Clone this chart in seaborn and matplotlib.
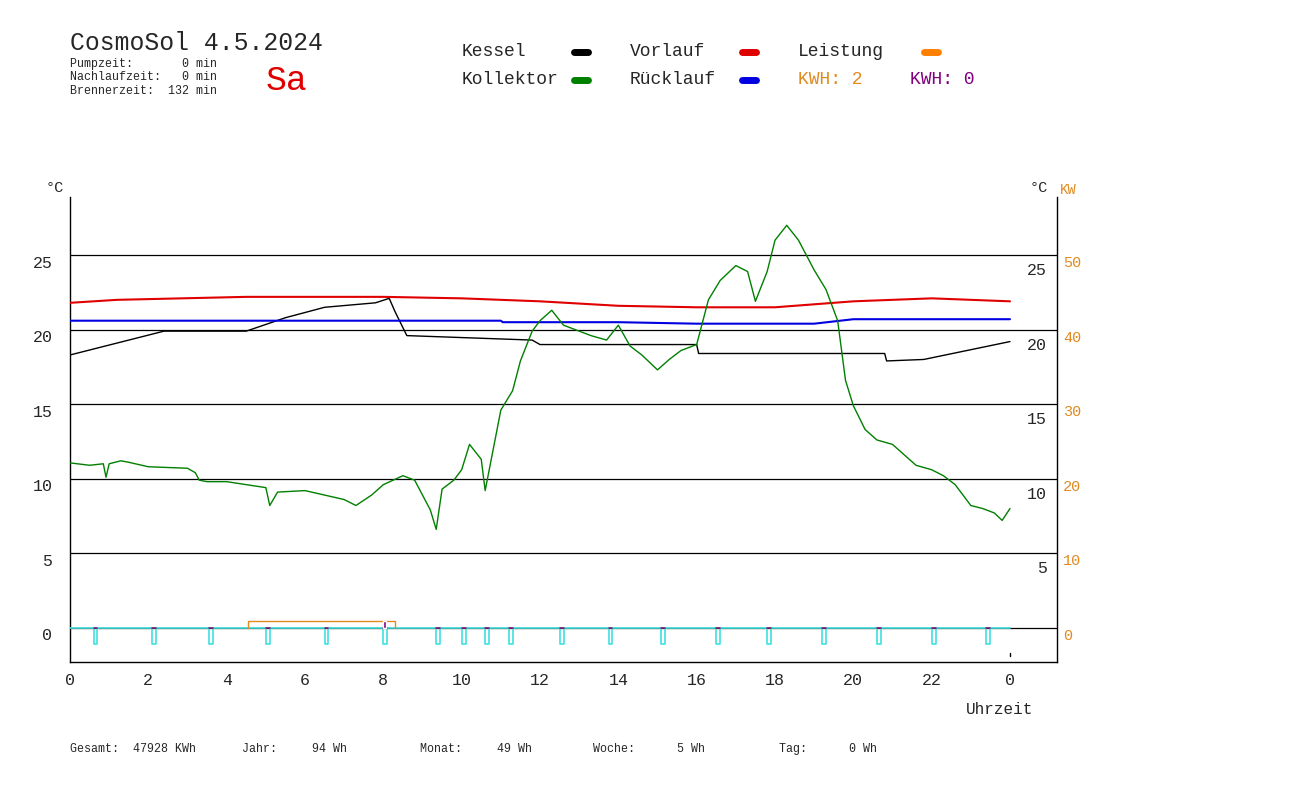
import matplotlib
matplotlib.use("Agg")
import matplotlib.pyplot as plt
import seaborn as sns
import pandas as pd
import numpy as np
from matplotlib.lines import Line2D

# ---------------- data ----------------
kessel_t = [0, 2.4, 4.5, 5.5, 6.5, 7.8, 8.15, 8.3, 8.6, 11.8, 12.0, 16.0, 16.05, 20.8, 20.85, 21.8, 24.0]
kessel_v = [18.3, 19.9, 19.9, 20.8, 21.5, 21.8, 22.1, 21.2, 19.6, 19.3, 19.0, 19.0, 18.4, 18.4, 17.9, 18.0, 19.2]

vorlauf_t = [0, 1.2, 4.5, 8.0, 10.0, 12.0, 14.0, 16.0, 18.0, 20.0, 22.0, 24.0]
vorlauf_v = [21.8, 22.0, 22.2, 22.2, 22.1, 21.9, 21.6, 21.5, 21.5, 21.9, 22.1, 21.9]

ruecklauf_t = [0, 11.0, 11.05, 14.0, 16.0, 19.0, 20.0, 24.0]
ruecklauf_v = [20.6, 20.6, 20.5, 20.5, 20.4, 20.4, 20.7, 20.7]

kollektor_t = [0, 0.5, 0.85, 0.92, 1.0, 1.3, 1.5, 2.0, 3.0, 3.2, 3.3, 3.5, 4.0, 4.5, 5.0, 5.1, 5.3, 6.0,
               6.5, 7.0, 7.3, 7.7, 8.0, 8.5, 8.8, 9.0, 9.2, 9.35, 9.5, 9.8, 10.0, 10.2, 10.5, 10.6,
               10.8, 11.0, 11.3, 11.5, 11.8, 12.0, 12.3, 12.6, 13.0, 13.3, 13.7, 14.0, 14.3, 14.6,
               15.0, 15.3, 15.6, 16.0, 16.3, 16.6, 17.0, 17.3, 17.5, 17.8, 18.0, 18.3, 18.6, 19.0,
               19.3, 19.6, 19.8, 20.0, 20.3, 20.6, 21.0, 21.3, 21.6, 22.0, 22.3, 22.6, 23.0, 23.3,
               23.6, 23.8, 24.0]
kollektor_v = [11.06, 10.9, 11.0, 10.1, 11.0, 11.2, 11.1, 10.8, 10.7, 10.4, 9.9, 9.8, 9.8, 9.6, 9.4, 8.2, 9.1, 9.2,
               8.9, 8.6, 8.2, 8.9, 9.6, 10.2, 9.9, 8.9, 7.9, 6.6, 9.3, 9.9, 10.6, 12.3, 11.3, 9.2,
               11.9, 14.6, 15.9, 17.9, 19.9, 20.6, 21.3, 20.3, 19.9, 19.6, 19.3, 20.3, 18.9, 18.3,
               17.3, 18.0, 18.6, 19.0, 22.0, 23.3, 24.3, 23.9, 21.9, 23.9, 26.0, 27.0, 26.0, 24.0,
               22.7, 20.6, 16.6, 14.9, 13.3, 12.6, 12.3, 11.6, 10.9, 10.6, 10.2, 9.6, 8.2, 8.0,
               7.7, 7.2, 8.0]

pump_dips = [0.6, 2.1, 3.55, 5.0, 6.5, 8.0, 9.35, 10.0, 10.6, 11.2, 12.5, 13.75, 15.1, 16.5, 17.8, 19.2, 20.6, 22.0, 23.4]
pump_low = -1.1
leistung_t = [4.55, 4.55, 8.3, 8.3]
leistung_v = [0.0, 0.45, 0.45, 0.0]

x_ticks = [0, 2, 4, 6, 8, 10, 12, 14, 16, 18, 20, 22, 24]
x_labels = ["0", "2", "4", "6", "8", "10", "12", "14", "16", "18", "20", "22", "0"]
c_ticks = [0, 5, 10, 15, 20, 25]
kw_labels = ["0", "10", "20", "30", "40", "50"]

# ---------------- plot ----------------
sns.set_style("white")
plt.rcParams['font.family'] = ['Liberation Mono', 'DejaVu Sans Mono']
fig = plt.figure(figsize=(13.14, 7.86), dpi=100)
ax = fig.add_axes([70/1314, 1-662/786, (1057-70)/1314, (662-197)/786])
ax.set_xlim(0, 25.2)
ax.set_ylim(-2.3, 28.9)

for c in c_ticks:
    ax.axhline(c, color="black", lw=0.9, zorder=1)

# pump signal
pt, pv = [0], [0]
w = 0.1
for d in pump_dips:
    pt += [d, d, d + w, d + w]
    pv += [0, pump_low, pump_low, 0]
pt.append(24); pv.append(0)
ax.plot(pt, pv, color="#40e0e0", lw=1.2, zorder=3)
for d in pump_dips:
    ax.plot([d, d + w], [0, 0], color="#7a1a6a", lw=1.2, zorder=4)
ax.plot(leistung_t, leistung_v, color="#e08a20", lw=1, zorder=3)
ax.bar([8.0], [0.45], width=0.08, bottom=0, color="#800080", zorder=4, align="edge")

sns.lineplot(x=kessel_t, y=kessel_v, ax=ax, color="black", lw=1, zorder=5)
sns.lineplot(x=vorlauf_t, y=vorlauf_v, ax=ax, color="#e00000", lw=1.5, zorder=5)
sns.lineplot(x=ruecklauf_t, y=ruecklauf_v, ax=ax, color="#0000e0", lw=1.5, zorder=5)
sns.lineplot(x=kollektor_t, y=kollektor_v, ax=ax, color="#008000", lw=1, zorder=6)
ax.plot([24, 24], [-1.7, -1.9], color="black", lw=1)

ax.spines["top"].set_visible(False)
for s in ["left", "bottom", "right"]:
    ax.spines[s].set_color("black")
    ax.spines[s].set_linewidth(1)
ax.set_yticks([])
ax.set_xticks(x_ticks)
ax.set_xticklabels(x_labels, fontsize=12)
ax.tick_params(axis="x", direction="in", length=5, pad=8, color="black")

for c, k in zip(c_ticks, kw_labels):
    ax.text(-0.45, c - 0.55, str(c), ha="right", va="center", fontsize=12)
    if c > 0:
        ax.text(24.95, c - 1.05, str(c), ha="right", va="center", fontsize=12)
    ax.text(25.35, c - 0.55, k, ha="left", va="center", fontsize=11, color="#e08a20")

def ft(x, y, s, **kw):
    fig.text(x/1314, 1-y/786, s, **kw)

ft(46, 188, "°C", fontsize=11, va="center")
ft(1030, 188, "°C", fontsize=11, va="center")
ft(1060, 190, "KW", fontsize=10, va="center", color="#e08a20")
ft(966, 710, "Uhrzeit", fontsize=11.5, va="center")

ft(70, 43, "CosmoSol 4.5.2024", fontsize=17.8, va="center")
ft(70, 64, "Pumpzeit:       0 min", fontsize=8.4, va="center")
ft(70, 77, "Nachlaufzeit:   0 min", fontsize=8.4, va="center")
ft(70, 91, "Brennerzeit:  132 min", fontsize=8.4, va="center")
ft(266, 80, "Sa", fontsize=25, va="center", color="#e00000")

ft(462, 52, "Kessel", fontsize=13, va="center")
ft(462, 80, "Kollektor", fontsize=13, va="center")
ft(630, 52, "Vorlauf", fontsize=13, va="center")
ft(630, 80, "Rücklauf", fontsize=13, va="center")
ft(798, 52, "Leistung", fontsize=13, va="center")
ft(798, 80, "KWH: 2", fontsize=13, va="center", color="#e08a20")
ft(910, 80, "KWH: 0", fontsize=13, va="center", color="#800080")
for x0, y0, col in [(574, 52, "black"), (574, 80, "#008000"), (742, 52, "#e00000"),
                    (742, 80, "#0000e0"), (924, 52, "#ff8000")]:
    fig.add_artist(Line2D([x0/1314, (x0+14)/1314], [1-y0/786, 1-y0/786], color=col, lw=5,
                          solid_capstyle="round", transform=fig.transFigure))

ft(70, 749, "Gesamt:  47928 KWh", fontsize=8.4, va="center")
ft(242, 749, "Jahr:     94 Wh", fontsize=8.4, va="center")
ft(420, 749, "Monat:     49 Wh", fontsize=8.4, va="center")
ft(593, 749, "Woche:      5 Wh", fontsize=8.4, va="center")
ft(779, 749, "Tag:      0 Wh", fontsize=8.4, va="center")

fig.savefig("out.png", dpi=100)
